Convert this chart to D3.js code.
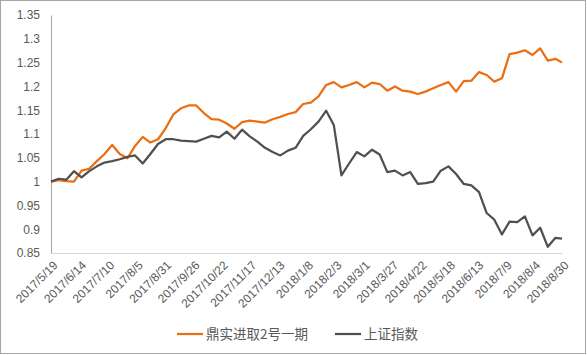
<!DOCTYPE html>
<html><head><meta charset="utf-8">
<script src="https://cdn.jsdelivr.net/npm/d3@7"></script>
<style>body{margin:0;background:#fff}svg{display:block}</style>
</head><body>
<svg id="c" width="587" height="355"></svg>
<script>
const dates = ["2017-05-19","2017-05-26","2017-06-02","2017-06-09","2017-06-16","2017-06-23","2017-06-30","2017-07-07","2017-07-14","2017-07-21","2017-07-28","2017-08-04","2017-08-11","2017-08-18","2017-08-25","2017-09-01","2017-09-08","2017-09-15","2017-09-22","2017-09-29","2017-10-06","2017-10-13","2017-10-20","2017-10-27","2017-11-03","2017-11-10","2017-11-17","2017-11-24","2017-12-01","2017-12-08","2017-12-15","2017-12-22","2017-12-29","2018-01-05","2018-01-12","2018-01-19","2018-01-26","2018-02-02","2018-02-09","2018-02-16","2018-02-23","2018-03-02","2018-03-09","2018-03-16","2018-03-23","2018-03-30","2018-04-06","2018-04-13","2018-04-20","2018-04-27","2018-05-04","2018-05-11","2018-05-18","2018-05-25","2018-06-01","2018-06-08","2018-06-15","2018-06-22","2018-06-29","2018-07-06","2018-07-13","2018-07-20","2018-07-27","2018-08-03","2018-08-10","2018-08-17","2018-08-24","2018-08-30"];
const fundValues = [1.000,1.003,1.001,1.000,1.023,1.027,1.043,1.058,1.077,1.058,1.049,1.075,1.094,1.082,1.089,1.112,1.141,1.154,1.160,1.160,1.144,1.131,1.130,1.122,1.111,1.125,1.128,1.126,1.124,1.131,1.136,1.142,1.146,1.163,1.166,1.179,1.203,1.209,1.198,1.203,1.209,1.198,1.208,1.205,1.191,1.200,1.191,1.189,1.184,1.189,1.196,1.203,1.209,1.189,1.211,1.212,1.230,1.224,1.210,1.217,1.268,1.271,1.276,1.266,1.280,1.254,1.258,1.250];
const indexValues = [1.000,1.006,1.004,1.022,1.009,1.022,1.032,1.040,1.043,1.047,1.052,1.055,1.038,1.058,1.079,1.089,1.089,1.086,1.085,1.084,1.090,1.096,1.093,1.105,1.090,1.109,1.095,1.084,1.071,1.062,1.055,1.065,1.071,1.096,1.110,1.126,1.149,1.119,1.013,1.038,1.062,1.053,1.067,1.057,1.020,1.023,1.013,1.020,0.995,0.997,1.000,1.023,1.032,1.016,0.995,0.992,0.978,0.934,0.920,0.889,0.916,0.915,0.927,0.887,0.903,0.863,0.882,0.880];
const seriesNames = ["鼎实进取2号一期","上证指数"];
const seriesColors = ["#EB6F12","#505050"];
const xTickLabels = ["2017/5/19","2017/6/14","2017/7/10","2017/8/5","2017/8/31","2017/9/26","2017/10/22","2017/11/17","2017/12/13","2018/1/8","2018/2/3","2018/3/1","2018/3/27","2018/4/22","2018/5/18","2018/6/13","2018/7/9","2018/8/4","2018/8/30"];
const yTicks = [0.85,0.9,0.95,1,1.05,1.1,1.15,1.2,1.25,1.3,1.35];

const svg = d3.select("#c");
const font = "'Liberation Sans', Arial, sans-serif";
const parse = d3.timeParse("%Y-%m-%d");
const parseTick = d3.timeParse("%Y/%m/%d");
const L = 51, R = 562, T = 15, B = 253;

svg.append("rect").attr("x",0.5).attr("y",0.5).attr("width",585).attr("height",353)
  .attr("fill","#fff").attr("stroke","#a6a6a6");

const x = d3.scaleTime().domain([parse(dates[0]), parse(dates[dates.length-1])]).range([L,R]);
const y = d3.scaleLinear().domain([0.85,1.35]).range([B,T]);

// y axis
const ya = svg.append("g").attr("transform",`translate(${L},0)`)
  .call(d3.axisLeft(y).tickValues(yTicks).tickSize(0).tickPadding(11).tickFormat(d3.format("")));
ya.select(".domain").attr("stroke","#a6a6a6");
ya.selectAll("text").attr("font-family",font).attr("font-size",12).attr("fill","#595959");

// x axis
const xa = svg.append("g").attr("transform",`translate(0,${B})`)
  .call(d3.axisBottom(x).tickValues(xTickLabels.map(parseTick)).tickSize(0).tickFormat((d,i)=>xTickLabels[i]));
xa.select(".domain").attr("stroke","#d9d9d9");
xa.selectAll("text").attr("font-family",font).attr("font-size",12).attr("fill","#595959")
  .attr("text-anchor","end").attr("dy","0.35em")
  .attr("transform","translate(4,10) rotate(-45)").attr("y",0);

const line = d3.line().x((d,i)=>x(parse(dates[i]))).y(d=>y(d));
[fundValues, indexValues].forEach((vals,k)=>{
  svg.append("path").datum(vals).attr("d",line).attr("fill","none")
    .attr("stroke",seriesColors[k]).attr("stroke-width",2.25).attr("stroke-linejoin","round");
});

// legend
const lg = svg.append("g");
const lx = [177, 335];
seriesNames.forEach((n,k)=>{
  lg.append("line").attr("x1",lx[k]).attr("x2",lx[k]+26).attr("y1",334).attr("y2",334)
    .attr("stroke",seriesColors[k]).attr("stroke-width",2.25);
  lg.append("text").attr("x",lx[k]+29).attr("y",334).attr("dy","0.35em")
    .attr("font-family","'Noto Sans CJK SC', sans-serif").attr("font-size",13.5).attr("fill","#595959").text(n);
});
</script>
</body></html>
